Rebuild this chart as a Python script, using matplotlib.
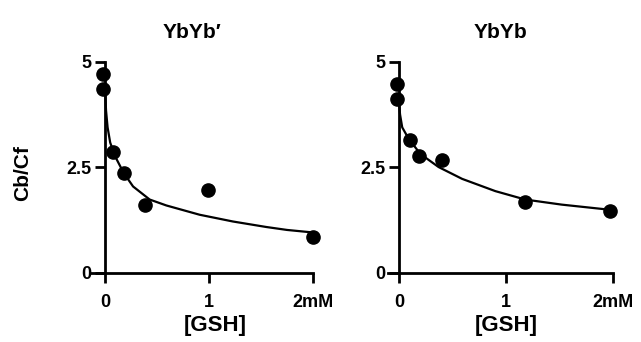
import matplotlib.pyplot as plt

plt.rcParams["font.family"] = ["Liberation Sans", "DejaVu Sans"]

# YbYb' panel
gsh_a = [-0.02, -0.02, 0.08, 0.18, 0.38, 0.99, 2.0]
ratio_a = [4.71, 4.37, 2.86, 2.36, 1.62, 1.96, 0.85]
fit_x_a = [0.0, 0.01, 0.025, 0.05, 0.1, 0.18, 0.27, 0.43, 0.59, 0.91, 1.23, 1.55, 1.75, 2.0]
fit_y_a = [4.4, 3.85, 3.45, 3.09, 2.75, 2.37, 2.05, 1.74, 1.6, 1.38, 1.22, 1.09, 1.02, 0.96]

# YbYb panel
gsh_b = [-0.02, -0.02, 0.1, 0.19, 0.4, 1.18, 1.97]
ratio_b = [4.48, 4.12, 3.14, 2.77, 2.68, 1.68, 1.48]
fit_x_b = [0.0, 0.01, 0.03, 0.09, 0.2, 0.37, 0.59, 0.9, 1.18, 1.52, 2.0]
fit_y_b = [4.0, 3.75, 3.45, 3.18, 2.82, 2.51, 2.23, 1.94, 1.74, 1.62, 1.49]

y_ticks = [0, 2.5, 5]
y_tick_labels = ["0", "2.5", "5"]
x_ticks = [0, 1, 2]
x_tick_labels = ["0", "1", "2mM"]

fig = plt.figure(figsize=(6.41, 3.42), dpi=100)
ax1 = fig.add_axes([0.1427, 0.2018, 0.3456, 0.617])
ax2 = fig.add_axes([0.6058, 0.2018, 0.3505, 0.617])

panels = [
    (ax1, gsh_a, ratio_a, fit_x_a, fit_y_a, "YbYb\u2032", -0.13, 0.454, 0.558),
    (ax2, gsh_b, ratio_b, fit_x_b, fit_y_b, "YbYb", -0.1, 0.50, 0.524),
]

for ax, x, y, fx, fy, title, xmin, tx, lx in panels:
    ax.plot(fx, fy, color="black", lw=1.6, clip_on=False)
    ax.plot(x, y, "o", color="black", ms=9.5, clip_on=False)
    ax.set_xlim(xmin, 2.0)
    ax.set_ylim(0, 5)
    for side in ["top", "right"]:
        ax.spines[side].set_visible(False)
    ax.spines["left"].set_position(("data", 0))
    ax.spines["left"].set_linewidth(2)
    ax.spines["bottom"].set_linewidth(2)
    ax.set_yticks(y_ticks, y_tick_labels)
    ax.set_xticks(x_ticks, x_tick_labels)
    ax.tick_params(direction="out", length=7, width=2, labelsize=13, pad=3)
    ax.tick_params(axis="x", pad=8)
    for lbl in ax.get_xticklabels() + ax.get_yticklabels():
        lbl.set_fontweight("bold")
    ax.set_title(title, fontsize=15, fontweight="bold", x=tx, y=1.114, pad=0)
    ax.set_xlabel("[GSH]", fontsize=16, fontweight="bold")
    ax.xaxis.set_label_coords(lx, -0.2)

ax1.set_ylabel("Cb/Cf", fontsize=15, fontweight="bold")
ax1.yaxis.set_label_coords(-0.27, 0.474)

fig.savefig("out.png", dpi=100)
